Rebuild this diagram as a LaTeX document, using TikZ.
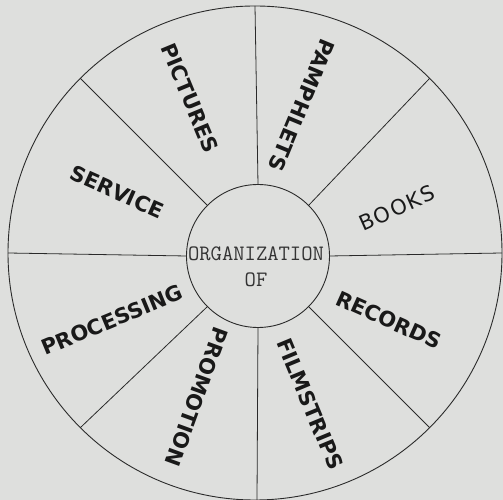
\documentclass[tikz,border=0pt]{standalone}
\usepackage{fontspec}
\newfontfamily\lblfont{DejaVu Sans}
\newfontfamily\lblfontsp[LetterSpace=8]{DejaVu Sans}
\definecolor{bg}{HTML}{DEDFDD}
\definecolor{ink}{HTML}{2A2A2A}
\tikzset{
  ring/.style={circle, draw=ink, line width=0.9pt, inner sep=0pt, outer sep=0pt},
  spoke/.style={draw=ink, line width=0.8pt},
  lbl/.style={text=black!90, font=\lblfont\bfseries\fontsize{21}{21}\selectfont, inner sep=0pt},
  lbllight/.style={text=black!90, font=\lblfontsp\fontsize{21}{21}\selectfont, inner sep=0pt},
  tw/.style={text=black!80, font=\ttfamily\fontsize{22}{22}\selectfont, inner sep=0pt}
}
\begin{document}
\begin{tikzpicture}[x=1pt,y=1pt]
\path[use as bounding box, fill=bg] (0,0) rectangle (503,500);
\node[ring, minimum size=494pt] (outer) at (255,247) {};
\node[ring, minimum size=143pt] (inner) at (258,244) {};
\foreach \a in {0,45,90,135,180,225,315} {
  \draw[spoke] (inner.\a) -- (outer.\a);
}
\coordinate (bottomend) at (257,0);
\draw[spoke] (inner.270) -- (bottomend);
\node[tw] (org) at (256,246) {ORGANIZATION};
\node[tw] (of) at (256,220) {OF};
\node[lbl, rotate=-67.5] (pictures) at (190,402) {PICTURES};
\node[lbl, rotate=-112.5] (pamphlets) at (302,395) {PAMPHLETS};
\node[lbllight, rotate=24] (books) at (397,292) {BOOKS};
\node[lbl, rotate=-24] (records) at (389,180) {RECORDS};
\node[lbl, rotate=-67.5] (filmstrips) at (310,96) {FILMSTRIPS};
\node[lbl, rotate=-110] (promotion) at (197,103) {PROMOTION};
\node[lbl, rotate=22.5] (processing) at (112,180) {PROCESSING};
\node[lbl, rotate=-24] (service) at (117,308) {SERVICE};
\end{tikzpicture}
\end{document}
